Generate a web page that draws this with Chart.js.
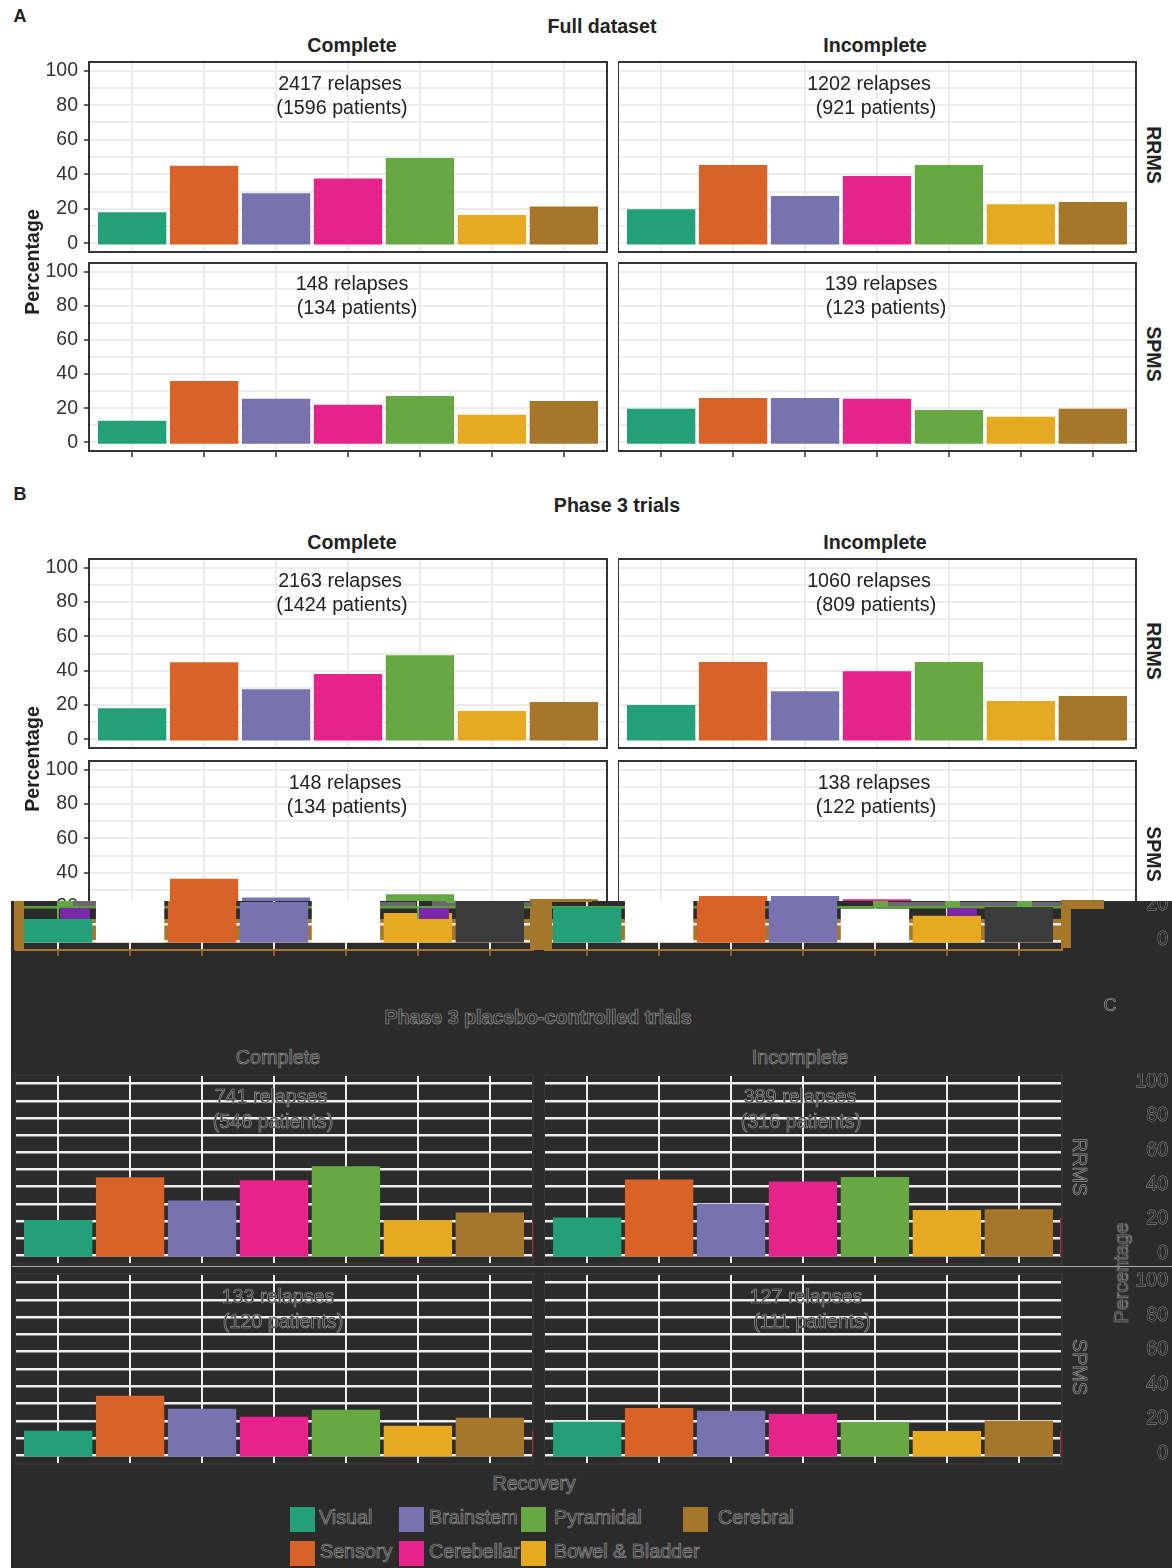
<!DOCTYPE html>
<html lang="en">
  <head>
    <meta charset="UTF-8" />
    <title>Recovery by functional system</title>
    <style>
      html, body { margin: 0; background: #fff; }
      body { position: relative; width: 1172px; height: 1568px; overflow: hidden; font-family: "Liberation Sans", Arial, sans-serif; color: #222; }
      canvas { position: absolute; }
      .box { position: absolute; }
      .txt { position: absolute; white-space: nowrap; transform: translate(-50%, -50%); font-size: 19.7px; line-height: 1; }
      .bold { font-weight: bold; font-size: 19.6px; margin-top: 1px; }
      .dark { color: #2b2b2b; -webkit-text-stroke: 0.7px #969696; }
    </style>
    <script src="https://cdn.jsdelivr.net/npm/chart.js"></script>
  </head>
  <body>
    <script>
      const categories = ["Visual", "Sensory", "Brainstem", "Cerebellar", "Pyramidal", "Bowel & Bladder", "Cerebral"];
      const yTicks = [0, 10, 20, 30, 40, 50, 60, 70, 80, 90, 100];

      const fullRrmsComplete = [18, 45, 29, 37.5, 49.4, 16.4, 21.4];
      const fullRrmsIncomplete = [19.8, 45.3, 27.4, 39, 45.3, 22.7, 23.9];
      const fullSpmsComplete = [12.7, 36, 25.5, 22, 27.2, 16.2, 24.3];
      const fullSpmsIncomplete = [19.7, 26, 26, 25.5, 19, 15, 19.7];
      const phase3RrmsComplete = [18.2, 44.9, 29.2, 38, 49, 16.5, 21.7];
      const phase3RrmsIncomplete = [20, 45, 28, 39.6, 45, 22.3, 25.2];
      const phase3SpmsComplete = [13, 36.5, 25.5, 23, 27.5, 16.5, 24.5];
      const phase3SpmsIncomplete = [20, 26.5, 26.5, 24.5, 19, 15, 20];
      const placeboRrmsComplete = [20.6, 45.5, 32, 43.8, 51.9, 20.6, 25];
      const placeboRrmsIncomplete = [22, 44.2, 30, 43, 45.7, 26.4, 26.8];
      const placeboSpmsComplete = [14.3, 34.5, 27, 22.4, 26.4, 17.2, 21.8];
      const placeboSpmsIncomplete = [19.5, 27.4, 25.9, 24.1, 19.1, 14.1, 20.1];

      const colors = ["#23a077", "#d96228", "#7872b1", "#e6238a", "#68a844", "#e6aa22", "#a6772b"];
      const stripColors = ["#23a077", "#ffffff", "#d96228", "#7872b1", "#ffffff", "#e6aa22", "#3c3c3c"];
      const BROWN = "#a6772b";
      const DARK = "#2b2b2b";

      const lightStyle = { grid: "#ececec", gridWidth: 2, frame: "#333333", tick: "#333333", label: "#333333" };
      const darkStyle = { grid: "#eeeeee", gridWidth: 2.5, frame: "#353535", tick: "#eeeeee", label: DARK, stroke: "#a0a0a0" };
      const stripStyle = { grid: "#eeeeee", gridWidth: 2.5, frame: BROWN, tick: BROWN, label: DARK, stroke: "#a0a0a0", strip: true };

      function addBox(x, y, w, h, color) {
        const el = document.createElement("div");
        el.className = "box";
        el.style.cssText = `left:${x}px;top:${y}px;width:${w}px;height:${h}px;background:${color}`;
        document.body.appendChild(el);
      }

      function addText(str, x, y, cls, rotate, size) {
        const el = document.createElement("div");
        el.className = "txt " + (cls || "");
        el.textContent = str;
        el.style.left = x + "px";
        el.style.top = y + "px";
        if (rotate) el.style.transform = `translate(-50%, -50%) rotate(${rotate}deg)`;
        if (size) el.style.fontSize = size + "px";
        document.body.appendChild(el);
        return el;
      }

      const framePlugin = {
        id: "frame",
        afterDatasetsDraw(chart, args, opts) {
          const a = chart.chartArea;
          const ctx = chart.ctx;
          ctx.save();
          ctx.strokeStyle = opts.color;
          ctx.lineWidth = 2;
          ctx.strokeRect(a.left, a.top, a.right - a.left, a.bottom - a.top);
          ctx.restore();
        },
      };

      // one facet; left/top/width/height describe the plot rectangle
      function addPanel(values, left, top, width, height, style, o) {
        o = o || {};
        const axisW = o.leftAxis ? 50 : 0;
        const rightW = o.rightAxis ? 106 : 2;
        const bottomH = o.xTicks ? 8 : 2;
        const canvas = document.createElement("canvas");
        canvas.width = axisW + width + rightW;
        canvas.height = height + 2 + bottomH;
        canvas.style.left = left - axisW + "px";
        canvas.style.top = top - 2 + "px";
        if (style.strip) canvas.style.clipPath = `inset(${901 - top + 2}px 0 0 0)`;
        document.body.appendChild(canvas);

        const showLabels = o.leftAxis || o.rightAxis;
        new Chart(canvas.getContext("2d"), {
          type: "bar",
          plugins: [framePlugin],
          data: {
            datasets: [
              {
                label: "Recovery",
                data: categories.map((c, i) => ({ x: i + 1, y: values[i] })),
                backgroundColor: style.strip ? stripColors : colors,
                base: -0.7,
                categoryPercentage: 0.95,
                barPercentage: 1,
              },
            ],
          },
          options: {
            responsive: false,
            animation: false,
            layout: { padding: { top: 2, right: o.rightAxis ? 0 : rightW } },
            plugins: { legend: { display: false }, tooltip: { enabled: false }, frame: { color: style.frame } },
            scales: {
              x: {
                type: "linear",
                offset: false,
                min: 0.4,
                max: 7.6,
                afterBuildTicks: (s) => { s.ticks = categories.map((c, i) => ({ value: i + 1 })); },
                afterFit: (s) => { s.height = bottomH; s.paddingLeft = 0; s.paddingRight = 0; },
                ticks: { display: false, autoSkip: false },
                border: { display: false },
                grid: { offset: false, color: style.grid, lineWidth: 2, drawTicks: !!o.xTicks, tickLength: 6, tickColor: style.tick, tickWidth: 1.5 },
              },
              y: {
                position: o.rightAxis ? "right" : "left",
                min: -5,
                max: 105,
                afterBuildTicks: (s) => { s.ticks = yTicks.map((v) => ({ value: v })); },
                afterFit: (s) => { s.width = o.rightAxis ? rightW : axisW; s.paddingTop = 0; s.paddingBottom = 0; },
                ticks: {
                  display: !!showLabels,
                  autoSkip: false,
                  padding: o.rightAxis ? 68 : 6,
                  crossAlign: o.rightAxis ? "far" : "near",
                  labelOffset: o.rightAxis ? -2 : 0,
                  color: style.label,
                  textStrokeColor: style.stroke || style.label,
                  textStrokeWidth: style.stroke ? 0.8 : 0,
                  font: { family: "'Liberation Sans', Arial, sans-serif", size: 19.5 },
                  callback: (v) => (v % 20 === 0 ? v : ""),
                },
                border: { display: false },
                grid: {
                  color: (c) => (style.strip && c.tick && c.tick.value === 20 ? "#5f9e3c" : style.grid),
                  lineWidth: style.gridWidth,
                  drawTicks: !!o.leftAxis,
                  tickLength: 5,
                  tickWidth: 1.5,
                  tickColor: (c) => (c.tick && c.tick.value % 20 === 0 ? style.tick : "rgba(0,0,0,0)"),
                },
              },
            },
          },
        });
      }

      // panels A and B
      addPanel(fullRrmsComplete, 89, 62, 518, 190, lightStyle, { leftAxis: true });
      addPanel(fullRrmsIncomplete, 618, 62, 518, 190, lightStyle);
      addPanel(fullSpmsComplete, 89, 263, 518, 188, lightStyle, { leftAxis: true, xTicks: true });
      addPanel(fullSpmsIncomplete, 618, 263, 518, 188, lightStyle, { xTicks: true });
      addPanel(phase3RrmsComplete, 89, 559, 518, 189, lightStyle, { leftAxis: true });
      addPanel(phase3RrmsIncomplete, 618, 559, 518, 189, lightStyle);
      addPanel(phase3SpmsComplete, 89, 761, 518, 189, lightStyle, { leftAxis: true });
      addPanel(phase3SpmsIncomplete, 618, 761, 518, 189, lightStyle);

      // dark lower part of the picture
      addBox(11, 901, 1161, 667, DARK);
      addBox(14, 919, 1048, 24, BROWN);

      addPanel(phase3SpmsComplete, 15, 761, 518, 189, stripStyle, { xTicks: true });
      addPanel(phase3SpmsIncomplete, 544, 761, 518, 189, stripStyle, { xTicks: true, rightAxis: true });

      addPanel(placeboRrmsComplete, 15, 1075, 518, 189, darkStyle);
      addPanel(placeboRrmsIncomplete, 544, 1075, 518, 189, darkStyle, { rightAxis: true });
      addPanel(placeboSpmsComplete, 15, 1274, 518, 190, darkStyle);
      addPanel(placeboSpmsIncomplete, 544, 1274, 518, 190, darkStyle, { rightAxis: true });

      // broken band on top of the shifted panels
      [
        [14, 901, 10, 49, BROWN], [530, 899, 62, 3, BROWN], [530, 902, 22, 48, BROWN],
        [1061, 900, 43, 9, BROWN], [1061, 900, 10, 48, BROWN],
        [72, 901, 24, 5, "#6a6a6a"], [57, 901, 16, 5, "#68a844"], [60, 908, 30, 11, "#7a28a8"], [57, 906, 2, 13, "#68a844"],
        [380, 902, 36, 4, "#6a6a6a"], [432, 901, 24, 5, "#6a6a6a"], [446, 900, 9, 3, "#68a844"], [419, 908, 30, 11, "#7a28a8"], [417, 906, 2, 13, "#68a844"],
        [524, 902, 8, 4, "#6a6a6a"],
        [873, 901, 15, 6, "#68a844"], [888, 902, 57, 4, "#6a6a6a"], [945, 901, 15, 6, "#68a844"], [960, 902, 57, 4, "#6a6a6a"],
        [1017, 901, 15, 6, "#68a844"], [1032, 902, 30, 4, "#6a6a6a"], [947, 908, 30, 8, "#7a28a8"],
        [12, 1266, 1160, 1, "#b0b0b0"],
        [532, 1220, 1, 37, "#b03030"], [1060, 1218, 1, 38, "#c02828"], [532, 1431, 1, 25, "#b03030"], [1060, 1431, 1, 25, "#c02828"],
      ].forEach((b) => addBox(b[0], b[1], b[2], b[3], b[4]));

      // headings
      addText("A", 20, 15, "bold", 0, 18);
      addText("Full dataset", 602, 26, "bold");
      addText("Complete", 352, 45, "bold");
      addText("Incomplete", 875, 45, "bold");
      addText("B", 20, 493, "bold", 0, 18);
      addText("Phase 3 trials", 617, 505, "bold");
      addText("Complete", 352, 542, "bold");
      addText("Incomplete", 875, 542, "bold");
      addText("Percentage", 33, 261, "bold", -90);
      addText("Percentage", 33, 758, "bold", -90);
      addText("RRMS", 1153, 154, "bold", 90);
      addText("SPMS", 1153, 353, "bold", 90);
      addText("RRMS", 1153, 650, "bold", 90);
      addText("SPMS", 1153, 853, "bold", 90);

      [
        ["2417 relapses", 340, 84], ["(1596 patients)", 342, 108], ["1202 relapses", 869, 84], ["(921 patients)", 876, 108],
        ["148 relapses", 352, 284], ["(134 patients)", 357, 308], ["139 relapses", 881, 284], ["(123 patients)", 886, 308],
        ["2163 relapses", 340, 581], ["(1424 patients)", 342, 605], ["1060 relapses", 869, 581], ["(809 patients)", 876, 605],
        ["148 relapses", 345, 783], ["(134 patients)", 347, 807], ["138 relapses", 874, 783], ["(122 patients)", 876, 807],
      ].forEach((t) => addText(t[0], t[1], t[2]));

      addText("Phase 3 placebo-controlled trials", 538, 1017, "bold dark");
      addText("C", 1110, 1005, "dark", 0, 18);
      addText("Complete", 278, 1058, "dark");
      addText("Incomplete", 800, 1058, "dark");
      addText("RRMS", 1079, 1167, "dark", 90);
      addText("SPMS", 1079, 1367, "dark", 90);
      addText("Percentage", 1122, 1273, "dark", -90);
      [
        ["741 relapses", 271, 1097], ["(546 patients)", 273, 1122], ["389 relapses", 800, 1097], ["(316 patients)", 801, 1122],
        ["133 relapses", 278, 1297], ["(120 patients)", 283, 1322], ["127 relapses", 806, 1297], ["(111 patients)", 812, 1322],
      ].forEach((t) => addText(t[0], t[1], t[2], "dark"));

      // legend
      addText("Recovery", 534, 1484, "dark");
      const legendSpots = [[290, 1507], [290, 1541], [399, 1507], [399, 1541], [521, 1507], [521, 1541], [683, 1507]];
      const legendGaps = [29, 30, 30, 30, 33, 33, 35];
      categories.forEach((name, i) => {
        const s = legendSpots[i];
        addBox(s[0], s[1], 25, 25, colors[i]);
        const el = addText(name, 0, 0, "dark");
        el.style.transform = "translateY(-50%)";
        el.style.left = s[0] + legendGaps[i] + "px";
        el.style.top = s[1] + 11 + "px";
      });
    </script>
  </body>
</html>
